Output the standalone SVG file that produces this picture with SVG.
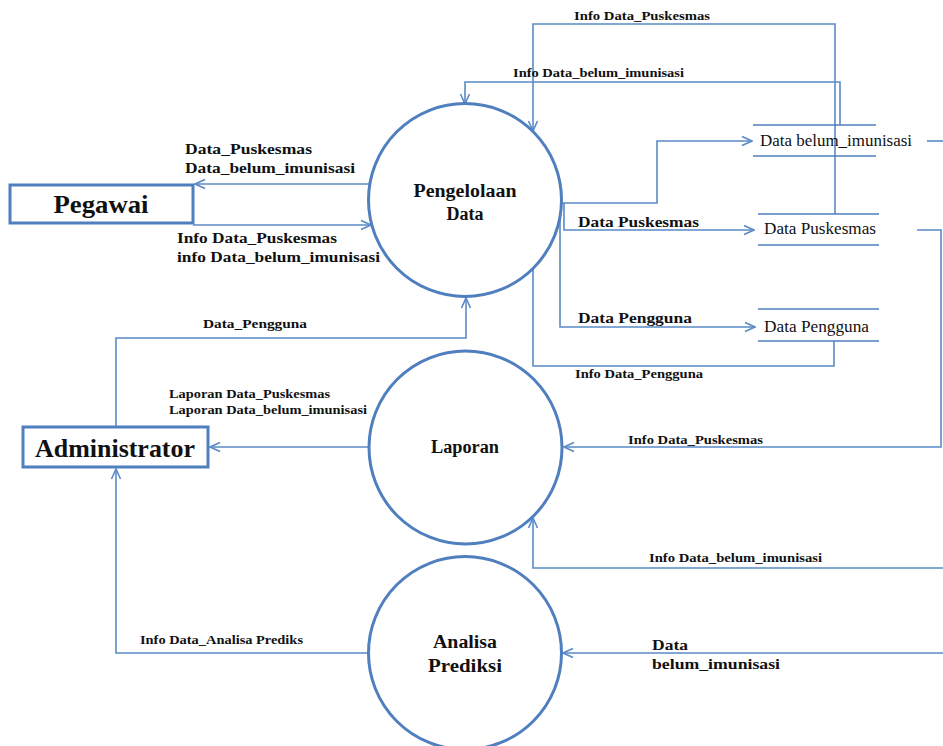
<svg xmlns="http://www.w3.org/2000/svg" width="943" height="746" viewBox="0 0 943 746" font-family="'Liberation Serif', 'DejaVu Serif', serif">
  <style>
    .proc { fill: #ffffff; stroke: #4f7fbf; stroke-width: 3; }
    .ent { fill: #ffffff; stroke: #4f7fbf; stroke-width: 3; }
    .store { stroke: #4f7fbf; stroke-width: 1.5; fill: none; }
    .flow { fill: none; stroke: #5b8ac6; stroke-width: 1.6; }
    .arr { marker-end: url(#head); }
    text { font-family: 'Liberation Serif', 'DejaVu Serif', serif; fill: #111111; }
    .lbl { font-size: 14px; font-weight: bold; }
    .sm { font-size: 13px; font-weight: bold; }
    .st { font-size: 16px; }
    .pt { font-size: 18px; font-weight: bold; text-anchor: middle; }
    .et { font-weight: bold; text-anchor: middle; }
  </style>
  <defs>
    <marker id="head" viewBox="0 0 12 12" refX="11" refY="6" markerWidth="12" markerHeight="12" markerUnits="userSpaceOnUse" orient="auto">
      <path d="M1,1.5 L11,6 L1,10.5" fill="none" stroke="#5b8ac6" stroke-width="1.6"/>
    </marker>
  </defs>

  <!-- connectors -->
  <g id="connectors">
    <path class="flow arr" d="M369,184 L195,184"/>
    <path class="flow arr" d="M193,225 L371,225"/>
    <path class="flow arr" d="M835,214 L835,24 L533,24 L533,131"/>
    <path class="flow arr" d="M840,125 L840,82 L465,82 L465,104"/>
    <path class="flow arr" d="M562,203 L657,203 L657,141 L752,141"/>
    <path class="flow arr" d="M564,203 L564,230 L754,230"/>
    <path class="flow arr" d="M560,217 L560,327 L755,327"/>
    <path class="flow" d="M834,341 L834,366 L533,366 L533,269"/>
    <path class="flow arr" d="M917,230 L941,230 L941,447 L564,447"/>
    <path class="flow" d="M927,141 L943,141"/>
    <path class="flow arr" d="M943,568 L533,568 L533,518"/>
    <path class="flow arr" d="M943,653 L563,653"/>
    <path class="flow arr" d="M368,447 L210,447"/>
    <path class="flow arr" d="M116,427 L116,338 L466,338 L466,298"/>
    <path class="flow arr" d="M368,653 L116,653 L116,469"/>

    <!-- flow labels -->
    <text class="sm" x="574" y="20" textLength="136" lengthAdjust="spacingAndGlyphs">Info Data_Puskesmas</text>
    <text class="sm" x="513" y="77" textLength="171" lengthAdjust="spacingAndGlyphs">Info Data_belum_imunisasi</text>
    <text class="lbl" x="185" y="154" textLength="127" lengthAdjust="spacingAndGlyphs">Data_Puskesmas</text>
    <text class="lbl" x="185" y="173" textLength="170" lengthAdjust="spacingAndGlyphs">Data_belum_imunisasi</text>
    <text class="lbl" x="177" y="243" textLength="160" lengthAdjust="spacingAndGlyphs">Info Data_Puskesmas</text>
    <text class="lbl" x="177" y="262" textLength="203" lengthAdjust="spacingAndGlyphs">info Data_belum_imunisasi</text>
    <text class="lbl" x="578" y="227" textLength="121" lengthAdjust="spacingAndGlyphs">Data Puskesmas</text>
    <text class="lbl" x="578" y="323" textLength="114" lengthAdjust="spacingAndGlyphs">Data Pengguna</text>
    <text class="sm" x="575" y="378" textLength="128" lengthAdjust="spacingAndGlyphs">Info Data_Pengguna</text>
    <text class="sm" x="203" y="328" textLength="104" lengthAdjust="spacingAndGlyphs">Data_Pengguna</text>
    <text class="sm" x="169" y="398" textLength="161" lengthAdjust="spacingAndGlyphs">Laporan Data_Puskesmas</text>
    <text class="sm" x="169" y="414" textLength="198" lengthAdjust="spacingAndGlyphs">Laporan Data_belum_imunisasi</text>
    <text class="sm" x="628" y="444" textLength="135" lengthAdjust="spacingAndGlyphs">Info Data_Puskesmas</text>
    <text class="sm" x="649" y="562" textLength="173" lengthAdjust="spacingAndGlyphs">Info Data_belum_imunisasi</text>
    <text class="sm" x="140" y="644" textLength="163" lengthAdjust="spacingAndGlyphs">Info Data_Analisa Prediks</text>
    <text class="lbl" x="652" y="650" textLength="36" lengthAdjust="spacingAndGlyphs">Data</text>
    <text class="lbl" x="652" y="669" textLength="128" lengthAdjust="spacingAndGlyphs">belum_imunisasi</text>
  </g>

  <!-- external entities -->
  <g id="pegawai">
    <rect class="ent" x="10" y="185" width="183" height="38"/>
    <text class="et" x="101" y="213" font-size="26" textLength="95" lengthAdjust="spacingAndGlyphs">Pegawai</text>
  </g>
  <g id="administrator">
    <rect class="ent" x="23" y="427" width="185" height="40"/>
    <text class="et" x="115" y="457" font-size="25" textLength="160" lengthAdjust="spacingAndGlyphs">Administrator</text>
  </g>

  <!-- processes -->
  <g id="pengelolaan-data">
    <circle class="proc" cx="465" cy="200" r="96.5"/>
    <text class="pt" x="465" y="197" textLength="103" lengthAdjust="spacingAndGlyphs">Pengelolaan</text>
    <text class="pt" x="465" y="220">Data</text>
  </g>
  <g id="laporan">
    <circle class="proc" cx="465.5" cy="447.5" r="96.5"/>
    <text class="pt" x="465" y="453" textLength="68" lengthAdjust="spacingAndGlyphs">Laporan</text>
  </g>
  <g id="analisa-prediksi">
    <circle class="proc" cx="465" cy="653" r="96.5"/>
    <text class="pt" x="465" y="648" textLength="64" lengthAdjust="spacingAndGlyphs">Analisa</text>
    <text class="pt" x="465" y="672" textLength="74" lengthAdjust="spacingAndGlyphs">Prediksi</text>
  </g>

  <!-- data stores -->
  <g id="store-belum-imunisasi">
    <path class="store" d="M753,125 H876 M753,156 H876"/>
    <text class="st" x="760" y="146" textLength="152" lengthAdjust="spacingAndGlyphs">Data belum_imunisasi</text>
  </g>
  <g id="store-puskesmas">
    <path class="store" d="M758,214 H879 M758,245 H879"/>
    <text class="st" x="764" y="234" textLength="112" lengthAdjust="spacingAndGlyphs">Data Puskesmas</text>
  </g>
  <g id="store-pengguna">
    <path class="store" d="M758,309 H879 M758,341 H879"/>
    <text class="st" x="764" y="332" textLength="105" lengthAdjust="spacingAndGlyphs">Data Pengguna</text>
  </g>
</svg>
